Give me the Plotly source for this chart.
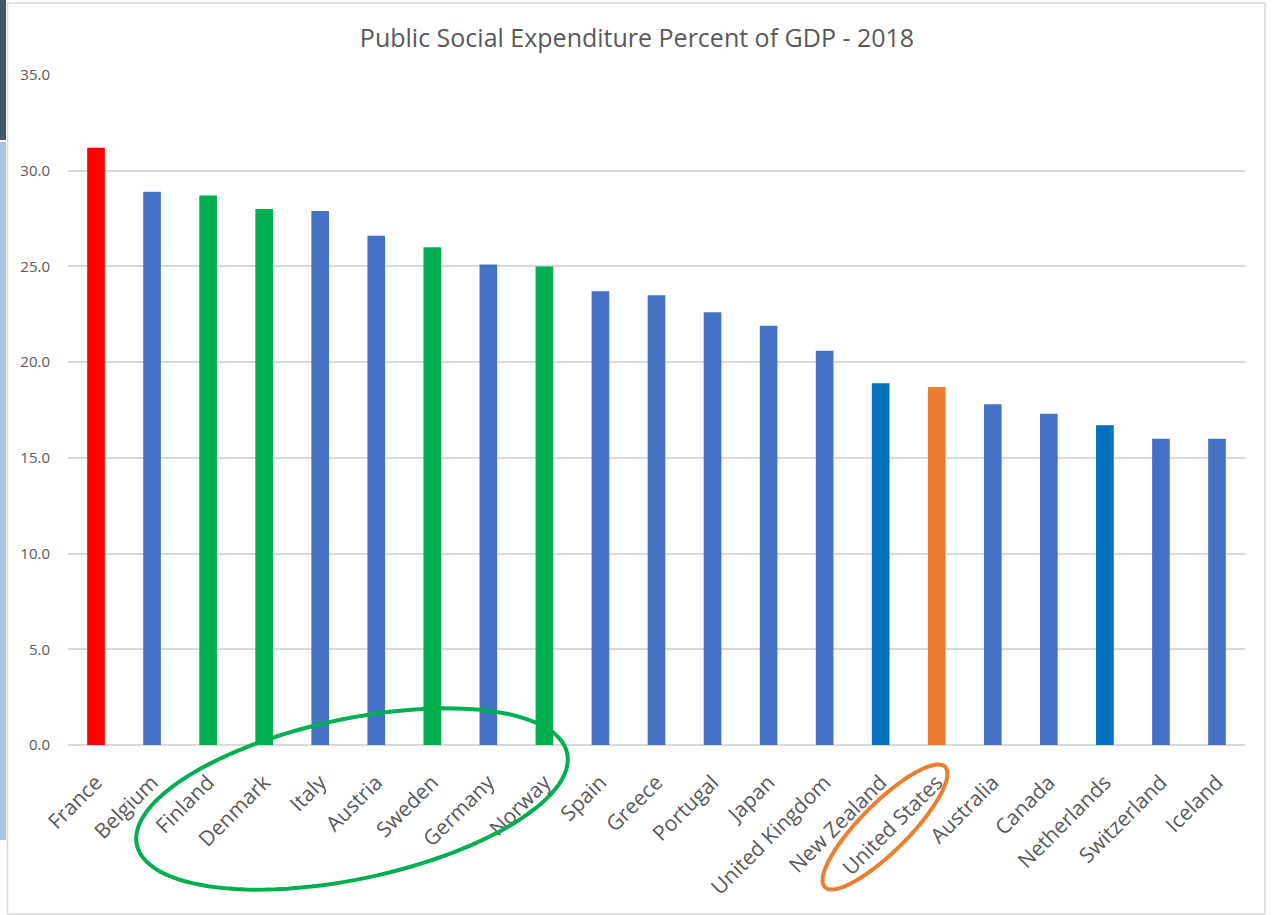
import numpy as np
import plotly.graph_objects as go

# data
countries = [
    "France", "Belgium", "Finland", "Denmark", "Italy", "Austria", "Sweden",
    "Germany", "Norway", "Spain", "Greece", "Portugal", "Japan",
    "United Kingdom", "New Zealand", "United States", "Australia", "Canada",
    "Netherlands", "Switzerland", "Iceland",
]
spending = [
    31.2, 28.9, 28.7, 28.0, 27.9, 26.6, 26.0, 25.1, 25.0, 23.7, 23.5, 22.6,
    21.9, 20.6, 18.9, 18.7, 17.8, 17.3, 16.7, 16.0, 16.0,
]
y_ticks = [0, 5, 10, 15, 20, 25, 30, 35]

# colours
BASE_BLUE = "#4472C4"
HIGHLIGHT = {
    "France": "#FF0000",
    "Finland": "#00B050",
    "Denmark": "#00B050",
    "Sweden": "#00B050",
    "Norway": "#00B050",
    "New Zealand": "#0070C0",
    "Netherlands": "#0070C0",
    "United States": "#ED7D31",
}
TEXT_GREY = "#595959"
GRID_GREY = "#D9D9D9"
FONT = "Open Sans, Liberation Sans, sans-serif"

W, H = 1274, 915
ML, MR, MT, MB = 68, 29, 75, 170
PW, PH = W - ML - MR, H - MT - MB


def px_x(px):
    return (px - ML) / PW


def px_y(py):
    return (H - MB - py) / PH


def ellipse_path(cx, cy, a, b, angle_deg, n=120):
    # cx, cy in page pixels -> path in paper coords
    t = np.linspace(0, 2 * np.pi, n)
    th = np.radians(angle_deg)
    ex = cx + a * np.cos(t) * np.cos(th) - b * np.sin(t) * np.sin(th)
    ey = cy - (a * np.cos(t) * np.sin(th) + b * np.sin(t) * np.cos(th))
    pts = [f"{px_x(x):.5f},{px_y(y):.5f}" for x, y in zip(ex, ey)]
    return "M" + " L".join(pts) + " Z"


bar_colors = [HIGHLIGHT.get(c, BASE_BLUE) for c in countries]

fig = go.Figure()

fig.add_trace(
    go.Bar(
        x=countries,
        y=spending,
        marker=dict(color=bar_colors, line=dict(width=0)),
        hovertemplate="%{x}: %{y:.1f}<extra></extra>",
    )
)

fig.update_layout(
    width=W,
    height=H,
    margin=dict(l=ML, r=MR, t=MT, b=MB),
    paper_bgcolor="white",
    plot_bgcolor="white",
    font=dict(family=FONT, color=TEXT_GREY),
    showlegend=False,
    bargap=0.685,
    title=dict(
        text="Public Social Expenditure Percent of GDP - 2018",
        x=0.5,
        xanchor="center",
        y=1 - 38 / H,
        yanchor="middle",
        font=dict(size=25, color=TEXT_GREY),
    ),
    xaxis=dict(
        tickangle=-45,
        tickfont=dict(size=21, color=TEXT_GREY),
        showgrid=False,
        showline=False,
        ticks="",
        ticklabelstandoff=20,
    ),
    yaxis=dict(
        range=[0, 35],
        tickvals=y_ticks,
        tickformat=".1f",
        tickfont=dict(size=15, color=TEXT_GREY),
        gridcolor=GRID_GREY,
        gridwidth=1.5,
        zeroline=True,
        zerolinecolor=GRID_GREY,
        zerolinewidth=1.5,
        showline=False,
        ticks="",
        ticklabelstandoff=17,
    ),
)

# chart border
fig.add_shape(
    type="rect",
    xref="paper", yref="paper",
    x0=px_x(7.5), x1=px_x(1265),
    y0=px_y(914), y1=px_y(3),
    line=dict(color="#D9D9D9", width=1.5),
    fillcolor="rgba(0,0,0,0)",
    layer="below",
)

# strip of the window behind the chart at the left edge
fig.add_shape(
    type="rect",
    xref="paper", yref="paper",
    x0=px_x(0), x1=px_x(6), y0=px_y(140), y1=px_y(0),
    line=dict(width=0), fillcolor="#44546A",
)
fig.add_shape(
    type="rect",
    xref="paper", yref="paper",
    x0=px_x(0), x1=px_x(6), y0=px_y(840), y1=px_y(142),
    line=dict(width=0), fillcolor="#A7C7E4",
)

# hand-drawn ellipses around labels
fig.add_shape(
    type="path",
    xref="paper", yref="paper",
    path=ellipse_path(352, 799, 220, 80, 12),
    line=dict(color="#00B050", width=4),
)
fig.add_shape(
    type="path",
    xref="paper", yref="paper",
    path=ellipse_path(885, 827, 85, 24, 45),
    line=dict(color="#ED7D31", width=4),
)

fig.write_html(
    "out.html",
    config={"displayModeBar": False},
    post_script="document.body.style.margin='0';",
)
